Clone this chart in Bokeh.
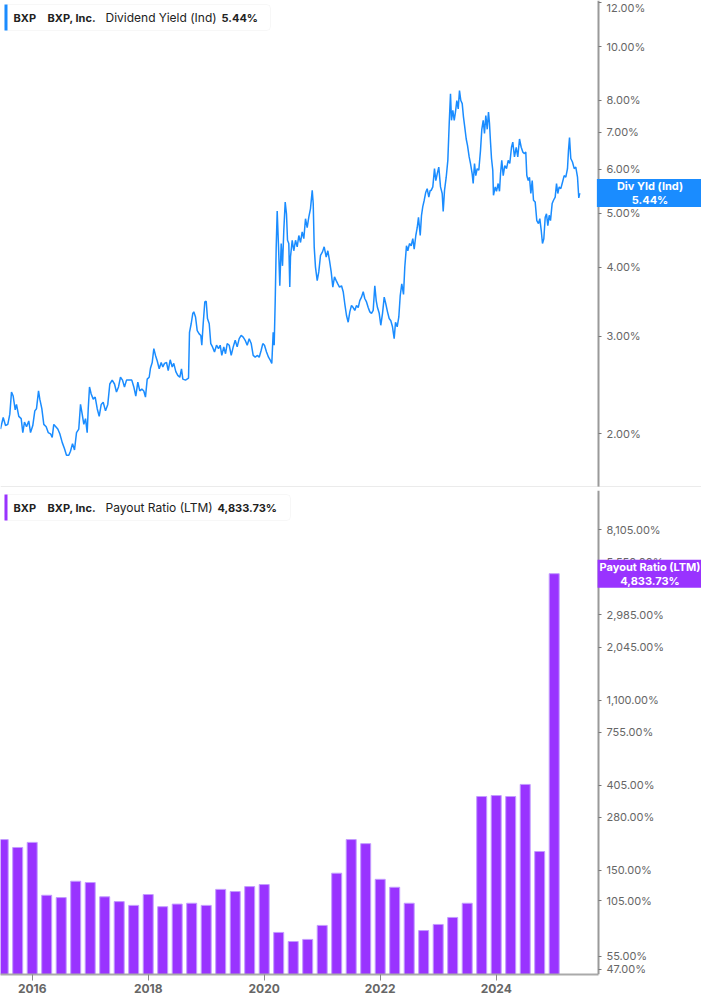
import pandas as pd
from bokeh.plotting import figure
from bokeh.layouts import column
from bokeh.models import (Range1d, FixedTicker, PrintfTickFormatter, CustomJSTickFormatter,
                          Label, BoxAnnotation, Span)
from bokeh.embed import file_html
from bokeh.resources import INLINE

TICKER = "BXP"
COMPANY = "BXP, Inc."
METRIC_TOP = "Dividend Yield (Ind)"
METRIC_BOT = "Payout Ratio (LTM)"
TAG_TOP = "Div Yld (Ind)"
LAST_YIELD = 5.44
LAST_PAYOUT = 4833.73

# Dividend yield (%), decimal year
yield_year = [
    2015.453, 2015.500, 2015.540, 2015.579, 2015.614, 2015.643, 2015.672, 2015.707, 2015.729, 2015.769,
    2015.810, 2015.838, 2015.867, 2015.902, 2015.941, 2015.971, 2016.010, 2016.045, 2016.074, 2016.109,
    2016.131, 2016.166, 2016.200, 2016.241, 2016.276, 2016.316, 2016.345, 2016.372, 2016.407, 2016.441,
    2016.476, 2016.517, 2016.557, 2016.591, 2016.631, 2016.660, 2016.695, 2016.729, 2016.764, 2016.803,
    2016.833, 2016.862, 2016.890, 2016.919, 2016.948, 2016.966, 2016.988, 2017.017, 2017.052, 2017.086,
    2017.121, 2017.155, 2017.190, 2017.224, 2017.264, 2017.303, 2017.338, 2017.379, 2017.419, 2017.453,
    2017.488, 2017.522, 2017.557, 2017.591, 2017.626, 2017.672, 2017.717, 2017.752, 2017.786, 2017.821,
    2017.855, 2017.890, 2017.924, 2017.953, 2017.983, 2018.017, 2018.040,
    2018.069, 2018.097, 2018.126, 2018.155, 2018.190, 2018.224, 2018.252, 2018.281, 2018.316, 2018.345,
    2018.379, 2018.414, 2018.441, 2018.476, 2018.510, 2018.545, 2018.574, 2018.597, 2018.643, 2018.695,
    2018.712, 2018.741, 2018.769, 2018.786, 2018.816, 2018.845, 2018.879, 2018.907, 2018.924, 2018.948,
    2018.976, 2019.000, 2019.022, 2019.052, 2019.079, 2019.109, 2019.143, 2019.178, 2019.212, 2019.241,
    2019.269, 2019.303, 2019.333, 2019.362, 2019.397, 2019.431, 2019.466, 2019.500, 2019.534, 2019.569,
    2019.603, 2019.638, 2019.672, 2019.707, 2019.741, 2019.776, 2019.810, 2019.845, 2019.879, 2019.914,
    2019.948, 2019.976, 2020.005, 2020.040, 2020.074, 2020.109, 2020.131, 2020.155, 2020.172, 2020.190,
    2020.207, 2020.224, 2020.247, 2020.269, 2020.293, 2020.316, 2020.338, 2020.362, 2020.384, 2020.402,
    2020.424, 2020.441,
    2020.453, 2020.483, 2020.510, 2020.540, 2020.569, 2020.597, 2020.626, 2020.655, 2020.683, 2020.712,
    2020.741, 2020.769, 2020.798, 2020.828, 2020.845, 2020.862, 2020.884, 2020.914, 2020.941, 2020.971,
    2021.005, 2021.034, 2021.069, 2021.097, 2021.126, 2021.155, 2021.183, 2021.212, 2021.241, 2021.269,
    2021.298, 2021.333, 2021.362, 2021.390, 2021.419, 2021.448, 2021.476, 2021.505, 2021.534, 2021.562,
    2021.591, 2021.621, 2021.648, 2021.678, 2021.707, 2021.734, 2021.764, 2021.793, 2021.821, 2021.850,
    2021.879, 2021.907, 2021.931, 2021.953, 2021.983, 2022.010, 2022.040, 2022.069, 2022.097, 2022.126,
    2022.155, 2022.183, 2022.212, 2022.241, 2022.264, 2022.293, 2022.321, 2022.345, 2022.372, 2022.402,
    2022.424, 2022.453, 2022.476, 2022.505, 2022.534, 2022.562, 2022.586, 2022.614, 2022.638, 2022.660,
    2022.690, 2022.712, 2022.734, 2022.759, 2022.786, 2022.810, 2022.838, 2022.862,
    2022.879, 2022.907, 2022.936, 2022.959, 2022.983, 2023.010, 2023.040, 2023.069, 2023.086, 2023.109,
    2023.138, 2023.166, 2023.190, 2023.212, 2023.229, 2023.252, 2023.276, 2023.298, 2023.321, 2023.345,
    2023.367, 2023.390, 2023.414, 2023.436, 2023.459, 2023.483, 2023.505, 2023.534, 2023.557, 2023.586,
    2023.603, 2023.626, 2023.648, 2023.672, 2023.700, 2023.729, 2023.752, 2023.776, 2023.798, 2023.821,
    2023.845, 2023.867, 2023.884, 2023.902, 2023.919, 2023.941, 2023.953, 2023.983, 2024.005, 2024.034,
    2024.057, 2024.074, 2024.096, 2024.121, 2024.148, 2024.178, 2024.207, 2024.234, 2024.264, 2024.286,
    2024.315, 2024.345, 2024.372, 2024.402, 2024.431, 2024.459, 2024.488, 2024.510, 2024.528, 2024.552,
    2024.574, 2024.597, 2024.621, 2024.643, 2024.672, 2024.700, 2024.729, 2024.752, 2024.776, 2024.798,
    2024.821, 2024.845, 2024.867, 2024.890, 2024.914, 2024.936, 2024.965, 2024.988, 2025.017, 2025.040,
    2025.062, 2025.086, 2025.114, 2025.143, 2025.172, 2025.200, 2025.229, 2025.246, 2025.264, 2025.286,
    2025.315, 2025.345, 2025.372, 2025.402, 2025.424, 2025.441,
]
yield_pct = [
    2.04, 2.14, 2.07, 2.08, 2.17, 2.38, 2.34, 2.21, 2.26, 2.15,
    2.13, 2.01, 2.10, 2.06, 2.11, 2.01, 2.07, 2.20, 2.22, 2.39,
    2.31, 2.22, 2.08, 2.06, 2.01, 2.00, 1.97, 2.08, 2.06, 2.04,
    2.00, 1.93, 1.88, 1.83, 1.83, 1.86, 1.92, 1.87, 2.01, 2.04,
    2.26, 2.17, 2.08, 2.13, 2.01, 2.22, 2.43, 2.36, 2.31, 2.33,
    2.22, 2.15, 2.26, 2.28, 2.20, 2.26, 2.46, 2.50, 2.46, 2.38,
    2.43, 2.53, 2.50, 2.43, 2.50, 2.50, 2.50, 2.43, 2.34, 2.48,
    2.39, 2.41, 2.39, 2.33, 2.51, 2.53, 2.63,
    2.69, 2.85, 2.77, 2.71, 2.62, 2.69, 2.64, 2.68, 2.69, 2.60,
    2.72, 2.64, 2.68, 2.59, 2.55, 2.53, 2.62, 2.51, 2.50, 2.52,
    3.05, 3.16, 3.30, 3.32, 3.25, 3.07, 3.03, 3.01, 2.89, 3.16,
    3.46, 3.47, 3.23, 3.16, 2.91, 2.87, 2.81, 2.89, 2.85, 2.89,
    2.77, 2.87, 2.79, 2.91, 2.89, 2.77, 2.87, 2.95, 2.87, 2.97,
    3.01, 2.99, 2.95, 2.89, 2.97, 2.91, 2.77, 2.75, 2.77, 2.75,
    2.83, 2.91, 2.89, 2.81, 2.75, 2.71, 2.68, 3.05, 2.89, 3.48,
    4.35, 5.05, 4.35, 3.70, 4.41, 4.02, 4.66, 5.24, 4.99, 4.47,
    4.41, 3.68,
    4.17, 4.47, 4.28, 4.47, 4.35, 4.56, 4.43, 4.63, 4.50, 4.89,
    4.71, 4.92, 5.10, 5.50, 5.21, 4.35, 4.00, 3.78, 3.92, 4.20,
    4.26, 4.35, 4.17, 4.28, 4.11, 3.92, 3.68, 3.84, 3.78, 3.73,
    3.68, 3.70, 3.61, 3.43, 3.27, 3.18, 3.32, 3.41, 3.38, 3.34,
    3.41, 3.38, 3.48, 3.53, 3.61, 3.51, 3.46, 3.38, 3.32, 3.30,
    3.34, 3.70, 3.48, 3.38, 3.30, 3.14, 3.30, 3.53, 3.43, 3.32,
    3.23, 3.20, 3.12, 2.97, 3.18, 3.12, 3.25, 3.55, 3.73, 3.57,
    4.00, 4.37, 4.28, 4.41, 4.37, 4.50, 4.31, 4.56, 4.71, 4.92,
    4.56, 4.96, 5.14, 5.28, 5.46, 5.54, 5.35, 5.50,
    5.50, 5.58, 6.02, 5.73, 5.89, 6.06, 5.58, 5.43, 5.04, 5.50,
    5.81, 6.23, 7.27, 8.22, 7.36, 7.67, 7.36, 7.62, 7.99, 7.72,
    8.33, 7.99, 7.89, 7.46, 7.14, 6.81, 6.63, 6.32, 6.15, 5.89,
    5.66, 6.15, 5.85, 6.02, 5.98, 6.49, 7.09, 7.36, 6.97, 7.51,
    7.09, 7.62, 7.27, 6.72, 6.28, 5.98, 5.39, 5.58, 5.48, 5.66,
    5.48, 5.89, 6.23, 5.85, 6.10, 6.02, 6.23, 6.15, 6.58, 6.72,
    6.32, 6.58, 6.32, 6.81, 6.58, 6.45, 6.41, 6.45, 5.85, 5.73,
    5.81, 5.43, 5.73, 5.28, 5.24, 4.85, 4.79, 4.89, 4.66, 4.41,
    4.50, 4.92, 4.99, 4.75, 4.96, 4.85, 5.21, 5.28, 5.35, 5.66,
    5.43, 5.58, 5.54, 5.69, 5.85, 5.81, 6.02, 6.49, 6.85, 6.28,
    6.19, 6.02, 6.06, 5.81, 5.33, 5.44,
]
assert len(yield_year) == len(yield_pct)

# Payout ratio (LTM, %) per fiscal quarter
quarters = [str(q) for q in pd.period_range("2015Q2", "2024Q4", freq="Q")]
payout_pct = [215, 196, 208, 112, 109, 132, 130, 110, 104, 99.5,
              113, 98, 101, 102, 99.5, 120, 117, 124, 127, 72.5,
              65.2, 66.8, 78.7, 145, 215, 205, 135, 123, 102, 74.1,
              79.6, 86.4, 102, 356, 360, 356, 410, 187, 4833.73]
assert len(quarters) == len(payout_pct)

yield_ticks = [2, 3, 4, 5, 6, 7, 8, 10, 12]
payout_ticks = [47, 55, 105, 150, 280, 405, 755, 1100, 2045, 2985, 5550, 8105]
year_ticks = [2016, 2018, 2020, 2022, 2024]

# ---- styling
FONT = "Inter"
BLUE = "#1a8cff"
PURPLE = "#9933ff"
W = 701            # whole frame width (the value axis is drawn inside it)
PX_YEAR = 58.0     # horizontal scale
X0 = 2015.4534
AXIS_X = X0 + 598 / PX_YEAR
X1 = X0 + W / PX_YEAR
FH1 = 487
FH2 = 484
BAR_BASE = 44.3

periods = pd.PeriodIndex(quarters, freq="Q")
bar_x = [p.qyear + p.quarter / 4.0 for p in periods]

xr = Range1d(X0, X1)

p1 = figure(frame_width=W, frame_height=FH1, x_range=xr, y_range=Range1d(1.60, 12.11),
            y_axis_type="log", y_axis_location="right", output_backend="svg",
            toolbar_location=None, min_border_left=0, min_border_right=0,
            min_border_top=0, min_border_bottom=0)
p1.xaxis.visible = False
p1.line(yield_year, yield_pct, color=BLUE, line_width=1.5)

p2 = figure(frame_width=W, frame_height=FH2, x_range=xr, y_range=Range1d(BAR_BASE, 12800),
            y_axis_type="log", y_axis_location="right", output_backend="svg",
            toolbar_location=None, min_border_left=0, min_border_right=0,
            min_border_top=3, min_border_bottom=0)
p2.vbar(x=bar_x, top=payout_pct, bottom=BAR_BASE, width=0.172,
        fill_color=PURPLE, line_color="#c39bff", line_width=1)

for p in (p1, p2):
    p.grid.visible = False
    p.outline_line_color = None
    p.background_fill_color = "white"
    p.border_fill_color = "white"
    ax = p.yaxis[0]
    ax.fixed_location = AXIS_X
    ax.axis_line_color = "#9a9a9a"
    ax.axis_line_width = 2
    ax.major_tick_out = 3
    ax.major_tick_in = 0
    ax.major_tick_line_color = "#777777"
    ax.minor_tick_out = 0
    ax.minor_tick_in = 0
    ax.major_label_text_font = FONT
    ax.major_label_text_font_size = "11px"
    ax.major_label_text_color = "#666666"
    ax.major_label_standoff = 5

p1.yaxis[0].ticker = FixedTicker(ticks=yield_ticks)
p1.yaxis[0].formatter = PrintfTickFormatter(format="%.2f%%")
p2.yaxis[0].ticker = FixedTicker(ticks=payout_ticks)
p2.yaxis[0].formatter = CustomJSTickFormatter(code="""
return tick.toLocaleString('en-US', {minimumFractionDigits: 2, maximumFractionDigits: 2}) + '%';
""")

xa = p2.xaxis[0]
xa.ticker = FixedTicker(ticks=year_ticks)
xa.bounds = (X0, AXIS_X)
xa.axis_line_color = "#aaaaaa"
xa.axis_line_width = 2
xa.major_tick_out = 6
xa.major_tick_in = 0
xa.major_tick_line_color = "#888888"
xa.minor_tick_out = 0
xa.minor_tick_in = 0
xa.major_label_text_font = FONT
xa.major_label_text_font_size = "12px"
xa.major_label_text_font_style = "bold"
xa.major_label_text_color = "#666666"
xa.major_label_standoff = 3

# separator line under top panel
p1.add_layout(Span(location=1.60, dimension="width", line_color="#d8d8d8", line_width=2))


def legend(p, fh, color, metric, val, box_right, val_x):
    common = dict(left_units="screen", right_units="screen", top_units="screen", bottom_units="screen")
    p.add_layout(BoxAnnotation(left=4, right=box_right, top=fh - 4, bottom=fh - 30,
                               fill_color="white", fill_alpha=1, line_color="#e3e3e3",
                               line_width=1, border_radius=4, **common))
    p.add_layout(BoxAnnotation(left=4, right=7, top=fh - 4, bottom=fh - 30,
                               fill_color=color, fill_alpha=1, line_color=None, **common))
    items = [(13, TICKER, "bold", "11px"), (47, COMPANY, "bold", "11px"),
             (105, metric, "normal", "12px"), (val_x, val, "bold", "11px")]
    for x, t, style, size in items:
        p.add_layout(Label(x=x, y=fh - 17, x_units="screen", y_units="screen", text=t,
                           text_font=FONT, text_font_size=size, text_font_style=style,
                           text_color="#222222", text_baseline="middle", text_align="left"))


legend(p1, FH1, BLUE, METRIC_TOP, f"{LAST_YIELD:.2f}%", 270, 221)
legend(p2, FH2, PURPLE, METRIC_BOT, f"{LAST_PAYOUT:,.2f}%", 290, 217)

TAG_X = 598 + 51.5   # centre of the value tags, screen px from frame left
p1.add_layout(Label(x=TAG_X, x_units="screen", y=LAST_YIELD, y_units="data",
                    text=f"{TAG_TOP}\n{LAST_YIELD:.2f}%", text_align="center", text_baseline="middle",
                    text_color="white", text_font=FONT, text_font_style="bold", text_font_size="11px",
                    text_line_height=1.0,
                    background_fill_color=BLUE, padding=dict(x=20, y=0)))
p2.add_layout(Label(x=TAG_X, x_units="screen", y=LAST_PAYOUT, y_units="data",
                    text=f"{METRIC_BOT}\n{LAST_PAYOUT:,.2f}%", text_align="center", text_baseline="middle",
                    text_color="white", text_font=FONT, text_font_style="bold", text_font_size="11px",
                    text_line_height=1.0,
                    background_fill_color=PURPLE, padding=dict(x=2, y=0)))

layout = column(p1, p2, spacing=0)
open("out.html", "w").write(file_html(layout, INLINE))
